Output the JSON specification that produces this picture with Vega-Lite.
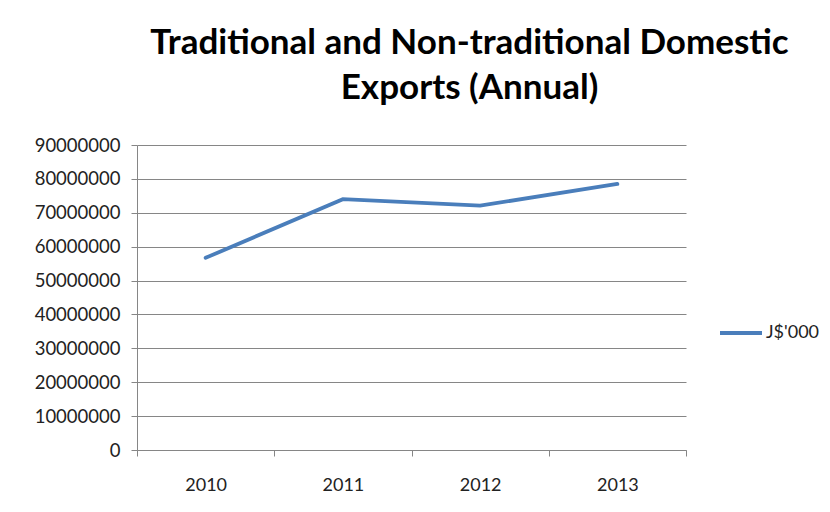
{
  "$schema": "https://vega.github.io/schema/vega-lite/v6.json",
  "width": 549,
  "height": 305,
  "autosize": {"type": "none"},
  "padding": {"left": 137, "top": 145, "right": 144, "bottom": 62},
  "background": "white",
  "title": {
    "text": ["Traditional and Non-traditional Domestic", "Exports (Annual)"],
    "font": "Lato",
    "fontSize": 35,
    "fontWeight": "bold",
    "color": "#000000",
    "anchor": "middle",
    "frame": "group",
    "lineHeight": 45,
    "dx": 58,
    "offset": 30
  },
  "data": {
    "values": [
      {"year": "2010", "series": "J$'000", "value": 56700000},
      {"year": "2011", "series": "J$'000", "value": 74000000},
      {"year": "2012", "series": "J$'000", "value": 72100000},
      {"year": "2013", "series": "J$'000", "value": 78500000}
    ]
  },
  "mark": {"type": "line", "strokeWidth": 3.8, "strokeCap": "round"},
  "encoding": {
    "x": {
      "field": "year",
      "type": "ordinal",
      "bandPosition": 0.5,
      "scale": {"type": "band", "paddingInner": 0, "paddingOuter": 0},
      "axis": {
        "title": null,
        "labelAngle": 0,
        "tickBand": "extent",
        "tickSize": 6,
        "labelPadding": 20,
        "labelFont": "Lato",
        "labelFontSize": 18,
        "labelColor": "#222222",
        "domainColor": "#868686",
        "tickColor": "#868686",
        "grid": false
      }
    },
    "y": {
      "field": "value",
      "type": "quantitative",
      "scale": {"domain": [0, 90000000], "nice": false},
      "axis": {
        "title": null,
        "values": [0, 10000000, 20000000, 30000000, 40000000, 50000000, 60000000, 70000000, 80000000, 90000000],
        "format": "d",
        "tickSize": 6,
        "labelPadding": 11,
        "labelFont": "Lato",
        "labelFontSize": 18.5,
        "labelColor": "#222222",
        "domainColor": "#868686",
        "tickColor": "#868686",
        "gridColor": "#868686",
        "grid": true
      }
    },
    "color": {
      "field": "series",
      "type": "nominal",
      "scale": {"range": ["#4A7EBB"]},
      "legend": {
        "title": null,
        "orient": "none",
        "legendX": 581,
        "legendY": 165,
        "symbolType": "stroke",
        "symbolSize": 1764,
        "symbolStrokeWidth": 3.8,
        "labelFont": "Lato",
        "labelFontSize": 18,
        "labelColor": "#222222",
        "labelOffset": 2
      }
    }
  },
  "config": {"view": {"stroke": null}}
}
